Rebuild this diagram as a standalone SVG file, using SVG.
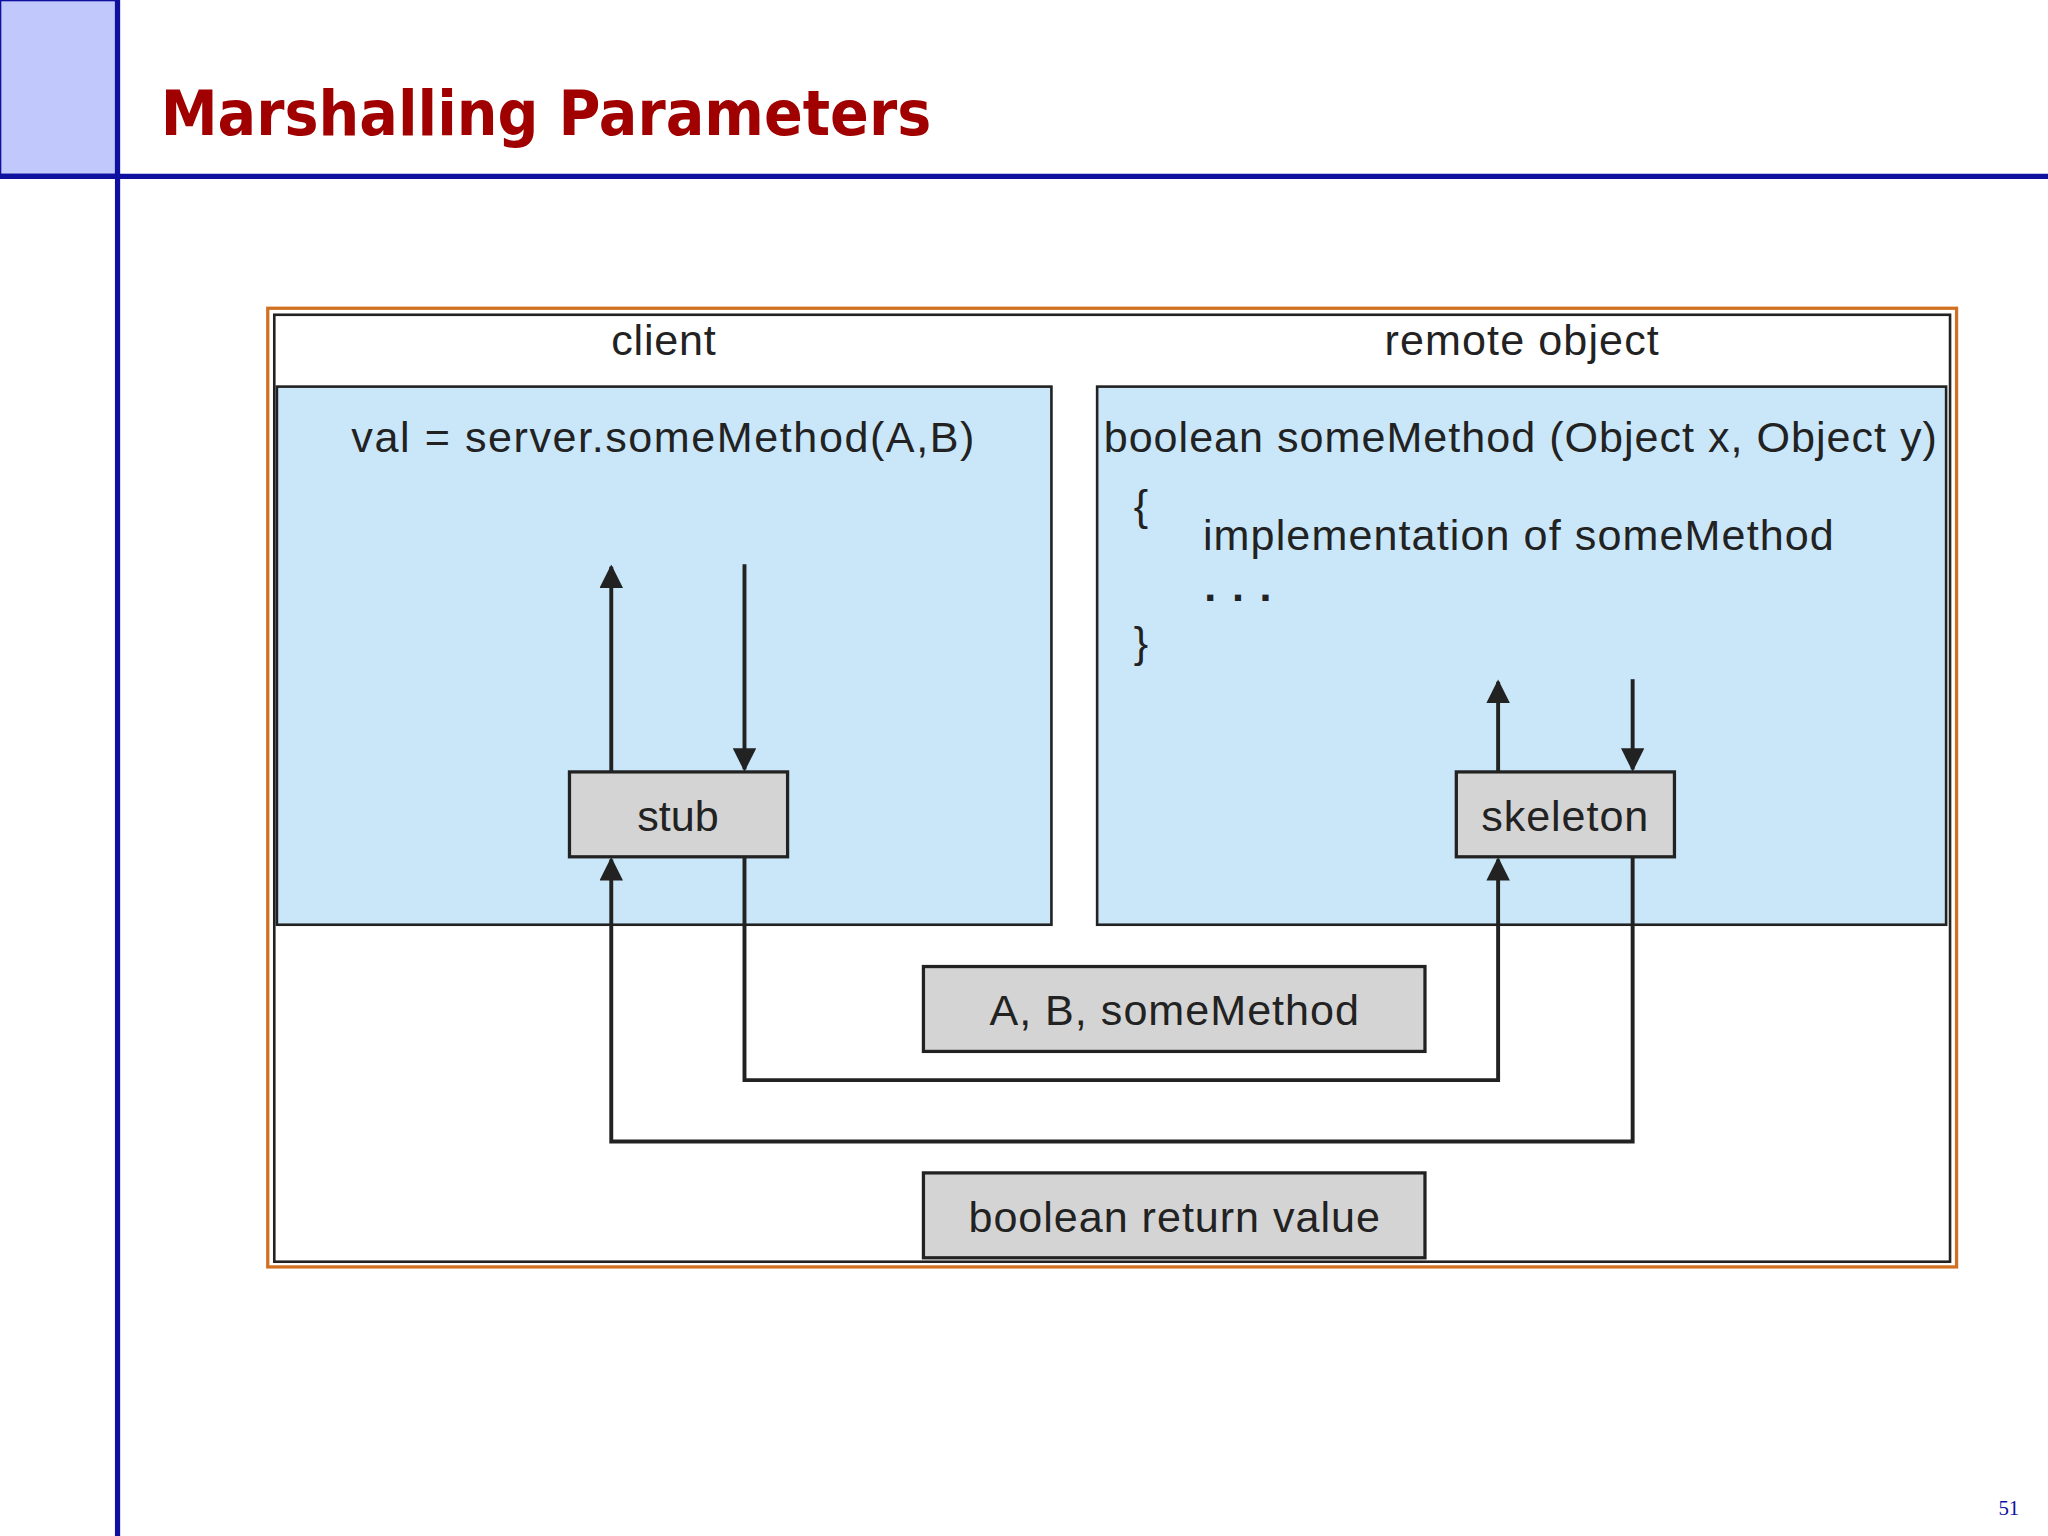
<svg xmlns="http://www.w3.org/2000/svg" width="2048" height="1536" viewBox="0 0 2048 1536">
<style>
.t{font-family:"Liberation Sans",Arial,sans-serif;font-size:33px;fill:#222}
.box{fill:#c9e7f9;stroke:#222;stroke-width:2}
.g{fill:#d4d4d4;stroke:#222;stroke-width:2.5}
.c{fill:none;stroke:#222;stroke-width:3}
</style>
<defs><marker id="a" viewBox="0 0 10 10" refX="9" refY="5" markerWidth="6" markerHeight="6" orient="auto"><path d="M0,0L10,5L0,10z" fill="#222"/></marker></defs>
<rect width="2048" height="1536" fill="#fff"/>
<g transform="scale(1.30612)">
<g id="slide">
<rect x="0" y="0" width="89" height="134" fill="#c0c8fc" stroke="#1010a0" stroke-width="2"/>
<line x1="90" y1="0" x2="90" y2="1176" stroke="#1010a0" stroke-width="4"/>
<line x1="0" y1="135" x2="1568" y2="135" stroke="#1010a0" stroke-width="4"/>
<text x="123" y="103" font-family="'DejaVu Sans',sans-serif" font-weight="bold" font-size="48" fill="#a00000" textLength="590" lengthAdjust="spacingAndGlyphs">Marshalling Parameters</text>
<text x="1538" y="1160" font-family="'Liberation Serif',serif" font-size="16" fill="#1010a0" text-anchor="middle">51</text>
</g>
<g id="frame">
<rect x="205" y="236" width="1293" height="734" fill="#fff" stroke="#d07020" stroke-width="2.5"/>
<rect x="210" y="241" width="1283" height="725" fill="none" stroke="#222" stroke-width="2"/>
<text class="t" x="468" y="272" textLength="80">client</text>
<text class="t" x="1060" y="272" textLength="210">remote object</text>
</g>
<g id="client"><rect class="box" x="212" y="296" width="593" height="412"/>
<text class="t" x="269" y="346" textLength="477">val = server.someMethod(A,B)</text></g>
<g id="remote"><rect class="box" x="840" y="296" width="650" height="412"/>
<text class="t" x="845" y="346" textLength="638">boolean someMethod (Object x, Object y)</text>
<text class="t" x="868" y="398">{</text>
<text class="t" x="921" y="421" textLength="483">implementation of someMethod</text>
<text class="t" x="922" y="460" font-weight="bold" letter-spacing="12">...</text>
<text class="t" x="868" y="503">}</text></g>
<g id="stub"><rect class="g" x="436" y="591" width="167" height="65"/><text class="t" x="519" y="636" text-anchor="middle">stub</text></g>
<g id="skeleton"><rect class="g" x="1115" y="591" width="167" height="65"/><text class="t" x="1198" y="636" text-anchor="middle" textLength="128">skeleton</text></g>
<g id="args"><rect class="g" x="707" y="740" width="384" height="65"/><text class="t" x="899" y="785" text-anchor="middle" textLength="283">A, B, someMethod</text></g>
<g id="ret"><rect class="g" x="707" y="898" width="384" height="65"/><text class="t" x="899" y="943" text-anchor="middle" textLength="315">boolean return value</text></g>
<g id="connectors">
<path class="c" d="M468,591V434" marker-end="url(#a)"/>
<path class="c" d="M570,432V589" marker-end="url(#a)"/>
<path class="c" d="M1147,591V522" marker-end="url(#a)"/>
<path class="c" d="M1250,520V589" marker-end="url(#a)"/>
<path class="c" d="M570,656V827H1147V658" marker-end="url(#a)"/>
<path class="c" d="M1250,656V874H468V658" marker-end="url(#a)"/>
</g>
</g>
</svg>
